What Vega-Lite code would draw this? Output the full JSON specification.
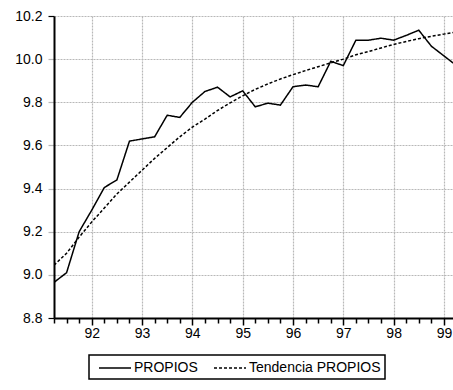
{
  "$schema": "https://vega.github.io/schema/vega-lite/v6.json",
  "autosize": "none",
  "width": 399,
  "height": 302,
  "padding": {"left": 54, "top": 16, "right": 0, "bottom": 72},
  "background": "white",
  "config": {
    "view": {"stroke": null},
    "font": "Liberation Sans",
    "axis": {"labelFont": "Liberation Sans", "labelFontSize": 14, "labelColor": "black"},
    "legend": {"labelFont": "Liberation Sans", "labelFontSize": 14, "labelColor": "black"}
  },
  "datasets": {
    "series": [
      {"t": 91.25, "serie": "PROPIOS", "v": 8.965},
      {"t": 91.5, "serie": "PROPIOS", "v": 9.01},
      {"t": 91.75, "serie": "PROPIOS", "v": 9.2},
      {"t": 92.0, "serie": "PROPIOS", "v": 9.3},
      {"t": 92.25, "serie": "PROPIOS", "v": 9.405},
      {"t": 92.5, "serie": "PROPIOS", "v": 9.44},
      {"t": 92.75, "serie": "PROPIOS", "v": 9.62},
      {"t": 93.0, "serie": "PROPIOS", "v": 9.63},
      {"t": 93.25, "serie": "PROPIOS", "v": 9.64},
      {"t": 93.5, "serie": "PROPIOS", "v": 9.74},
      {"t": 93.75, "serie": "PROPIOS", "v": 9.73},
      {"t": 94.0, "serie": "PROPIOS", "v": 9.8},
      {"t": 94.25, "serie": "PROPIOS", "v": 9.85},
      {"t": 94.5, "serie": "PROPIOS", "v": 9.87},
      {"t": 94.75, "serie": "PROPIOS", "v": 9.825},
      {"t": 95.0, "serie": "PROPIOS", "v": 9.853},
      {"t": 95.25, "serie": "PROPIOS", "v": 9.779},
      {"t": 95.5, "serie": "PROPIOS", "v": 9.796},
      {"t": 95.75, "serie": "PROPIOS", "v": 9.787},
      {"t": 96.0, "serie": "PROPIOS", "v": 9.872},
      {"t": 96.25, "serie": "PROPIOS", "v": 9.88},
      {"t": 96.5, "serie": "PROPIOS", "v": 9.872},
      {"t": 96.75, "serie": "PROPIOS", "v": 9.99},
      {"t": 97.0, "serie": "PROPIOS", "v": 9.97},
      {"t": 97.25, "serie": "PROPIOS", "v": 10.088},
      {"t": 97.5, "serie": "PROPIOS", "v": 10.088},
      {"t": 97.75, "serie": "PROPIOS", "v": 10.097},
      {"t": 98.0, "serie": "PROPIOS", "v": 10.088},
      {"t": 98.25, "serie": "PROPIOS", "v": 10.11},
      {"t": 98.5, "serie": "PROPIOS", "v": 10.134},
      {"t": 98.75, "serie": "PROPIOS", "v": 10.06},
      {"t": 99.0, "serie": "PROPIOS", "v": 10.015},
      {"t": 99.25, "serie": "PROPIOS", "v": 9.97},
      {"t": 91.25, "serie": "Tendencia PROPIOS", "v": 9.045},
      {"t": 91.5, "serie": "Tendencia PROPIOS", "v": 9.1},
      {"t": 91.75, "serie": "Tendencia PROPIOS", "v": 9.175},
      {"t": 92.0, "serie": "Tendencia PROPIOS", "v": 9.245},
      {"t": 92.25, "serie": "Tendencia PROPIOS", "v": 9.31},
      {"t": 92.5, "serie": "Tendencia PROPIOS", "v": 9.375},
      {"t": 92.75, "serie": "Tendencia PROPIOS", "v": 9.43},
      {"t": 93.0, "serie": "Tendencia PROPIOS", "v": 9.485},
      {"t": 93.25, "serie": "Tendencia PROPIOS", "v": 9.54},
      {"t": 93.5, "serie": "Tendencia PROPIOS", "v": 9.59},
      {"t": 93.75, "serie": "Tendencia PROPIOS", "v": 9.64},
      {"t": 94.0, "serie": "Tendencia PROPIOS", "v": 9.685},
      {"t": 94.25, "serie": "Tendencia PROPIOS", "v": 9.722},
      {"t": 94.5, "serie": "Tendencia PROPIOS", "v": 9.762},
      {"t": 94.75, "serie": "Tendencia PROPIOS", "v": 9.797},
      {"t": 95.0, "serie": "Tendencia PROPIOS", "v": 9.83},
      {"t": 95.25, "serie": "Tendencia PROPIOS", "v": 9.86},
      {"t": 95.5, "serie": "Tendencia PROPIOS", "v": 9.885},
      {"t": 95.75, "serie": "Tendencia PROPIOS", "v": 9.908},
      {"t": 96.0, "serie": "Tendencia PROPIOS", "v": 9.928},
      {"t": 96.25, "serie": "Tendencia PROPIOS", "v": 9.947},
      {"t": 96.5, "serie": "Tendencia PROPIOS", "v": 9.965},
      {"t": 96.75, "serie": "Tendencia PROPIOS", "v": 9.983},
      {"t": 97.0, "serie": "Tendencia PROPIOS", "v": 10.0},
      {"t": 97.25, "serie": "Tendencia PROPIOS", "v": 10.02},
      {"t": 97.5, "serie": "Tendencia PROPIOS", "v": 10.035},
      {"t": 97.75, "serie": "Tendencia PROPIOS", "v": 10.052},
      {"t": 98.0, "serie": "Tendencia PROPIOS", "v": 10.068},
      {"t": 98.25, "serie": "Tendencia PROPIOS", "v": 10.082},
      {"t": 98.5, "serie": "Tendencia PROPIOS", "v": 10.095},
      {"t": 98.75, "serie": "Tendencia PROPIOS", "v": 10.106},
      {"t": 99.0, "serie": "Tendencia PROPIOS", "v": 10.116},
      {"t": 99.25, "serie": "Tendencia PROPIOS", "v": 10.126}
    ]
  },
  "layer": [
    {
      "data": {"name": "series"},
      "mark": {"type": "line", "clip": true, "strokeWidth": 1.5, "color": "black"},
      "encoding": {
        "x": {
          "field": "t", "type": "quantitative",
          "scale": {"domain": [91.25, 99.18], "nice": false, "zero": false},
          "axis": {
            "title": null,
            "values": [91.25, 91.5, 91.75, 92, 92.25, 92.5, 92.75, 93, 93.25, 93.5, 93.75, 94, 94.25, 94.5, 94.75, 95, 95.25, 95.5, 95.75, 96, 96.25, 96.5, 96.75, 97, 97.25, 97.5, 97.75, 98, 98.25, 98.5, 98.75, 99],
            "labelExpr": "datum.value % 1 == 0 ? format(datum.value, 'd') : ''",
            "labelOverlap": false,
            "labelFlush": false,
            "labelPadding": 1,
            "domainColor": "black",
            "domainWidth": 2,
            "tickColor": "black",
            "tickWidth": 1.5,
            "tickSize": {"condition": {"test": "datum.value % 1 == 0", "value": 7}, "value": 5},
            "grid": true,
            "gridColor": "#b8b8b8",
            "gridDash": [2, 1],
            "gridWidth": 1.2,
            "gridOpacity": {"condition": {"test": "datum.value % 1 == 0 && datum.value > 91.5", "value": 1}, "value": 0}
          }
        },
        "y": {
          "field": "v", "type": "quantitative",
          "scale": {"domain": [8.8, 10.2], "nice": false, "zero": false},
          "axis": {
            "title": null,
            "values": [8.8, 9.0, 9.2, 9.4, 9.6, 9.8, 10.0, 10.2],
            "format": ".1f",
            "labelPadding": 6,
            "domainColor": "black",
            "domainWidth": 2,
            "tickSize": 6,
            "tickColor": {"condition": {"test": "datum.value < 8.9 || datum.value > 10.1", "value": "black"}, "value": "#b8b8b8"},
            "tickWidth": 1.2,
            "grid": true,
            "gridColor": "#b8b8b8",
            "gridDash": [2, 1],
            "gridWidth": 1.2
          }
        },
        "detail": {"field": "serie", "type": "nominal"},
        "strokeDash": {
          "field": "serie", "type": "nominal",
          "scale": {"domain": ["PROPIOS", "Tendencia PROPIOS"], "range": [[1, 0], [3, 2]]},
          "legend": {
            "title": null,
            "orient": "none",
            "direction": "horizontal",
            "legendX": 35,
            "legendY": 339,
            "strokeColor": "black",
            "padding": 4,
            "symbolType": "M-1,0H3",
            "symbolSize": 256,
            "symbolOffset": 5,
            "symbolStrokeWidth": 1.5,
            "symbolStrokeColor": "black",
            "labelOffset": 18,
            "columnPadding": 10,
            "encode": {"legend": {"update": {"strokeWidth": {"value": 1.5}}}}
          }
        }
      }
    },
    {
      "mark": {"type": "rule", "color": "black", "strokeWidth": 2},
      "encoding": {"y": {"datum": 10.2, "type": "quantitative"}}
    }
  ]
}
